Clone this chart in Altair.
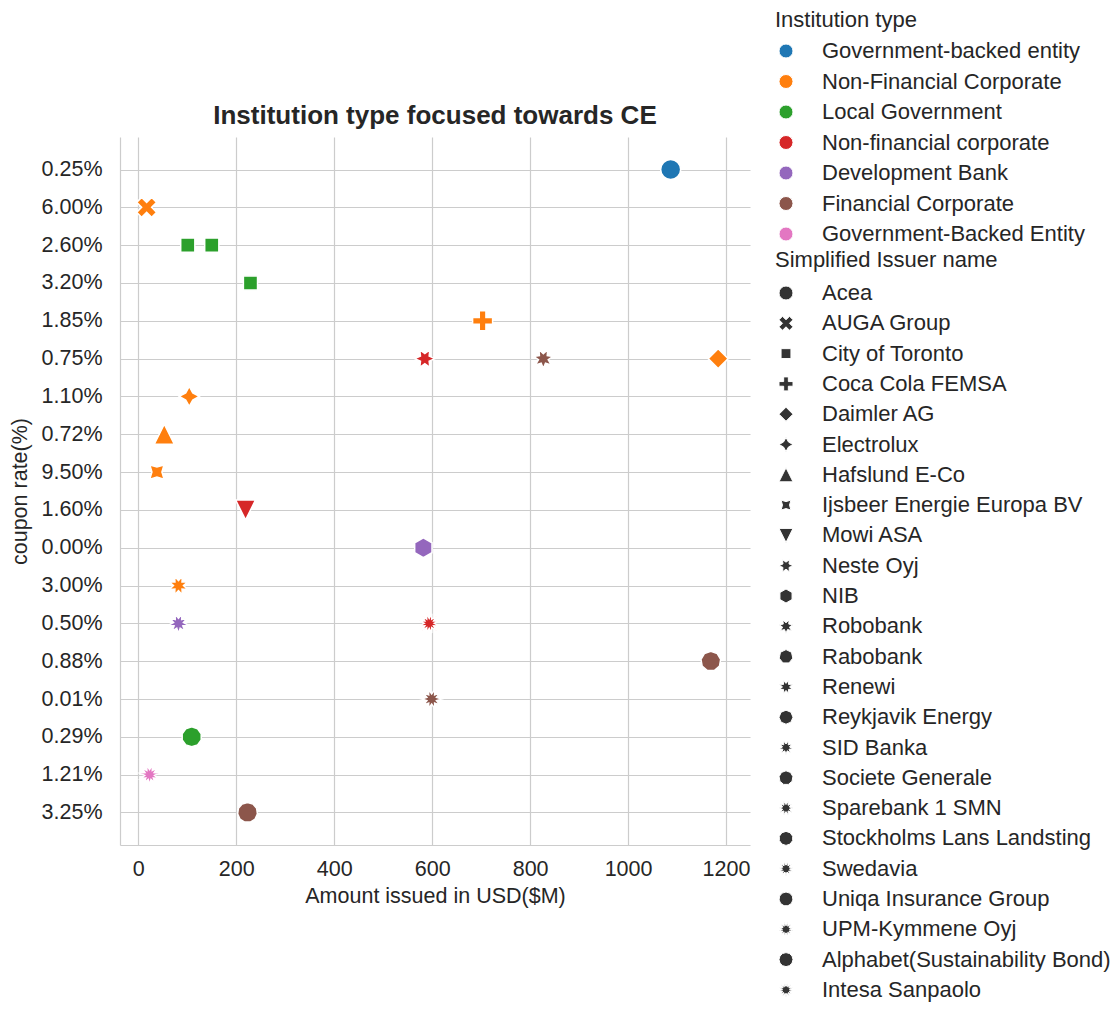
import math
import altair as alt
import pandas as pd

# ---- data ----
issuer = [
    "Acea", "AUGA Group", "City of Toronto", "City of Toronto", "City of Toronto",
    "Coca Cola FEMSA", "Daimler AG", "Electrolux", "Hafslund E-Co",
    "Ijsbeer Energie Europa BV", "Mowi ASA", "Neste Oyj", "NIB", "Robobank",
    "Renewi", "SID Banka", "Societe Generale", "Sparebank 1 SMN",
    "Stockholms Lans Landsting", "Swedavia", "Uniqa Insurance Group", "UPM-Kymmene Oyj",
]
amount = [1087, 17, 101, 150, 229, 703, 1184, 104, 53, 38, 219, 585, 582, 827,
          82, 82, 1169, 599, 109, 23, 223, 594]
coupon = ["0.25%", "6.00%", "2.60%", "2.60%", "3.20%", "1.85%", "0.75%", "1.10%",
          "0.72%", "9.50%", "1.60%", "0.75%", "0.00%", "0.75%", "3.00%", "0.50%",
          "0.88%", "0.01%", "0.29%", "1.21%", "3.25%", "0.50%"]
institution = [
    "Government-backed entity", "Non-Financial Corporate", "Local Government",
    "Local Government", "Local Government", "Non-Financial Corporate",
    "Non-Financial Corporate", "Non-Financial Corporate", "Non-Financial Corporate",
    "Non-Financial Corporate", "Non-financial corporate", "Non-financial corporate",
    "Development Bank", "Financial Corporate", "Non-Financial Corporate",
    "Development Bank", "Financial Corporate", "Financial Corporate",
    "Local Government", "Government-Backed Entity", "Financial Corporate",
    "Non-financial corporate",
]

coupon_order = ["0.25%", "6.00%", "2.60%", "3.20%", "1.85%", "0.75%", "1.10%", "0.72%",
                "9.50%", "1.60%", "0.00%", "3.00%", "0.50%", "0.88%", "0.01%", "0.29%",
                "1.21%", "3.25%"]
institution_order = ["Government-backed entity", "Non-Financial Corporate", "Local Government",
                     "Non-financial corporate", "Development Bank", "Financial Corporate",
                     "Government-Backed Entity"]
issuer_order = ["Acea", "AUGA Group", "City of Toronto", "Coca Cola FEMSA", "Daimler AG",
                "Electrolux", "Hafslund E-Co", "Ijsbeer Energie Europa BV", "Mowi ASA",
                "Neste Oyj", "NIB", "Robobank", "Rabobank", "Renewi", "Reykjavik Energy",
                "SID Banka", "Societe Generale", "Sparebank 1 SMN", "Stockholms Lans Landsting",
                "Swedavia", "Uniqa Insurance Group", "UPM-Kymmene Oyj",
                "Alphabet(Sustainability Bond)", "Intesa Sanpaolo"]
x_ticks = [0, 200, 400, 600, 800, 1000, 1200]

palette = ["#1f77b4", "#ff7f0e", "#2ca02c", "#d62728", "#9467bd", "#8c564b", "#e377c2"]


# ---- marker shapes (seaborn default style markers) ----
def _path(pts):
    return "M" + " L".join(f"{x:.3f},{-y:.3f}" for x, y in pts) + " Z"


def polygon(n, rot):
    return _path([(math.cos(math.radians(90 + rot + 360 * k / n)),
                   math.sin(math.radians(90 + rot + 360 * k / n))) for k in range(n)])


def star(n, rot, inner=0.5):
    pts = []
    for k in range(2 * n):
        r = 1.0 if k % 2 == 0 else inner
        a = math.radians(90 + rot + 180 * k / n)
        pts.append((r * math.cos(a), r * math.sin(a)))
    return _path(pts)


x_filled = _path([(v[0] / 2, v[1] / 2) for v in [(-1, -2), (0, -1), (1, -2), (2, -1), (1, 0), (2, 1),
                                                    (1, 2), (0, 1), (-1, 2), (-2, 1), (-1, 0), (-2, -1)]])
plus_filled = _path([(v[0] / 3, v[1] / 3) for v in [(-1, -3), (1, -3), (1, -1), (3, -1), (3, 1), (1, 1),
                                                       (1, 3), (-1, 3), (-1, 1), (-3, 1), (-3, -1), (-1, -1)]])
tri_up = _path([(0, 1), (-1, -1), (1, -1)])
tri_down = _path([(0, -1), (-1, 1), (1, 1)])

shapes = ["circle", x_filled, polygon(4, 45), plus_filled, polygon(4, 0), star(4, 0),
          tri_up, star(4, 45), tri_down]
s = 5
while len(shapes) < len(issuer_order):
    a = 360 / (s + 1) / 2
    shapes.append(star(s + 1, a))
    shapes.append(polygon(s + 1, 0))
    s += 1
shapes = shapes[:len(issuer_order)]

df = pd.DataFrame({"issuer": issuer, "amount": amount, "coupon": coupon, "institution": institution})

FONT = "Liberation Sans"
TXT = "#262626"

chart = alt.Chart(df).mark_point(
    filled=True, opacity=1, size=400, stroke="white", strokeWidth=1.5
).encode(
    x=alt.X("amount:Q", title="Amount issued in USD($M)",
            scale=alt.Scale(domain=[-37.4, 1249], nice=False, zero=False),
            axis=alt.Axis(values=x_ticks, format="d", labelPadding=13, titlePadding=6)),
    y=alt.Y("coupon:N", title="coupon rate(%)", sort=coupon_order,
            scale=alt.Scale(domain=coupon_order, type="point", padding=0.86),
            axis=alt.Axis(labelPadding=18, titlePadding=10)),
    color=alt.Color("institution:N", title="Institution type",
                    scale=alt.Scale(domain=institution_order, range=palette),
                    legend=alt.Legend(orient="none", legendX=655, legendY=-127,
                                      symbolType="circle", symbolSize=196,
                                      symbolStrokeColor="white", symbolStrokeWidth=1,
                                      titlePadding=8, rowPadding=8.5, labelOffset=25)),
    shape=alt.Shape("issuer:N", title="Simplified Issuer name",
                    scale=alt.Scale(domain=issuer_order, range=shapes),
                    legend=alt.Legend(orient="none", legendX=655, legendY=113,
                                      symbolSize=196, symbolFillColor="#333333",
                                      symbolStrokeColor="white", symbolStrokeWidth=1,
                                      titlePadding=10, rowPadding=8.3, labelOffset=25)),
).properties(
    width=630, height=708,
    title=alt.TitleParams("Institution type focused towards CE", fontSize=26, fontWeight="bold",
                          font=FONT, color=TXT, anchor="middle", frame="group", offset=8, dy=127),
    padding={"left": 112, "top": 129, "right": 361, "bottom": 165},
    autosize=alt.AutoSizeParams(type="none"),
).configure_view(
    strokeWidth=0
).configure_axis(
    labelFont=FONT, titleFont=FONT, labelFontSize=21.5, titleFontSize=21.5,
    labelColor=TXT, titleColor=TXT, titleFontWeight="normal",
    grid=True, gridColor="#cccccc", gridWidth=1.2,
    domainColor="#cccccc", domainWidth=1.2, ticks=False, tickSize=0,
).configure_legend(
    labelFont=FONT, titleFont=FONT, labelFontSize=22, titleFontSize=22,
    labelColor=TXT, titleColor=TXT, titleFontWeight="normal", padding=0,
    labelLimit=400, titleLimit=400,
)

chart.save("out.html", embed_options={"renderer": "svg", "actions": False})
